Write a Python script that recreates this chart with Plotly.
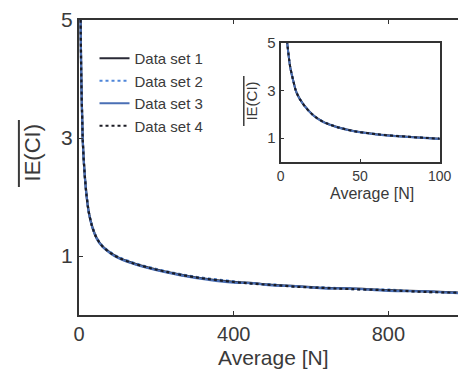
import plotly.graph_objects as go

# ---- data ----
avg_n = [4, 5, 6, 8, 10, 14, 20, 26, 35, 46, 60, 80, 100, 130, 170, 220, 300,
         400, 450, 500, 560, 630, 700, 800, 900, 980]
set1 = [5.10, 4.50, 4.00, 3.40, 2.92, 2.45, 2.00, 1.72, 1.48, 1.30, 1.17, 1.06, 0.98,
        0.90, 0.82, 0.74, 0.64, 0.56, 0.54, 0.51, 0.49, 0.46, 0.45, 0.42, 0.40, 0.38]
set2 = [5.12, 4.52, 4.02, 3.42, 2.93, 2.46, 2.01, 1.73, 1.49, 1.31, 1.18, 1.07, 0.99,
        0.91, 0.83, 0.75, 0.65, 0.57, 0.53, 0.52, 0.48, 0.47, 0.44, 0.43, 0.39, 0.39]
set3 = [5.08, 4.49, 3.99, 3.39, 2.91, 2.44, 1.99, 1.71, 1.47, 1.29, 1.16, 1.05, 0.97,
        0.89, 0.81, 0.73, 0.63, 0.55, 0.54, 0.50, 0.49, 0.45, 0.45, 0.41, 0.40, 0.37]
set4 = [5.11, 4.51, 4.01, 3.41, 2.92, 2.45, 2.00, 1.72, 1.48, 1.30, 1.17, 1.06, 0.98,
        0.90, 0.82, 0.74, 0.64, 0.56, 0.53, 0.51, 0.48, 0.46, 0.44, 0.42, 0.39, 0.38]
series_names = ["Data set 1", "Data set 2", "Data set 3", "Data set 4"]
series_values = [set1, set2, set3, set4]
series_colors = ["#2a2a36", "#4f86d9", "#4a6fb5", "#1c1c24"]
series_dash = ["solid", "dot", "solid", "dot"]

main_x_ticks = [0, 400, 800]
main_y_ticks = [1, 3, 5]
inset_x_ticks = [0, 50, 100]
inset_y_ticks = [1, 3, 5]

W, H = 470, 369
ml, mr, mt, mb = 79, 0, 20, 54
pw, ph = W - ml - mr, H - mt - mb

def px_x(p):
    return (p - ml) / pw

def px_y(p):
    return (H - mb - p) / ph

fig = go.Figure()
for name, vals, col, dash in zip(series_names, series_values, series_colors, series_dash):
    fig.add_trace(go.Scatter(x=avg_n, y=vals, name=name, mode="lines",
                             line=dict(color=col, width=2.2, dash=dash, shape="spline"),
                             xaxis="x", yaxis="y"))
for name, vals, col, dash in zip(series_names, series_values, series_colors, series_dash):
    fig.add_trace(go.Scatter(x=avg_n, y=vals, name=name, mode="lines", showlegend=False,
                             line=dict(color=col, width=2, dash=dash, shape="spline"),
                             xaxis="x2", yaxis="y2"))

axcol = "#333333"
txtcol = "#3a3a3a"
fig.update_layout(
    width=W, height=H,
    margin=dict(l=ml, r=mr, t=mt, b=mb),
    paper_bgcolor="white", plot_bgcolor="white",
    font=dict(family="Liberation Sans, Arial, sans-serif", color=txtcol),
    showlegend=True,
    legend=dict(x=px_x(95), y=px_y(42), xanchor="left", yanchor="top",
                bgcolor="rgba(0,0,0,0)", font=dict(size=15, color=txtcol),
                itemwidth=30, tracegroupgap=0),
    xaxis=dict(domain=[0, 1], range=[0, 980], tickvals=main_x_ticks,
               showline=True, linecolor=axcol, linewidth=2, mirror="ticks",
               ticks="inside", ticklen=4, tickcolor=axcol, showgrid=False,
               zeroline=False, tickfont=dict(size=20, color=txtcol)),
    yaxis=dict(domain=[0, 1], range=[0, 5], tickvals=main_y_ticks,
               showline=True, linecolor=axcol, linewidth=2,
               ticks="inside", ticklen=4, tickcolor=axcol, showgrid=False,
               zeroline=False, tickfont=dict(size=21, color=txtcol)),
    xaxis2=dict(domain=[px_x(287), px_x(451)], range=[0, 100], tickvals=inset_x_ticks,
                anchor="y2", showline=True, linecolor=axcol, linewidth=2, mirror=True,
                ticks="inside", ticklen=3, tickcolor=axcol, showgrid=False,
                zeroline=False, tickfont=dict(size=14, color=txtcol)),
    yaxis2=dict(domain=[px_y(162), px_y(43)], range=[0, 5], tickvals=inset_y_ticks,
                anchor="x2", showline=True, linecolor=axcol, linewidth=2, mirror=True,
                ticks="inside", ticklen=3, tickcolor=axcol, showgrid=False,
                zeroline=False, tickfont=dict(size=15, color=txtcol)),
)

# axis titles
def ann(text, x, y, size, angle=0):
    fig.add_annotation(text=text, xref="paper", yref="paper", x=px_x(x), y=px_y(y),
                       xanchor="center", yanchor="middle", textangle=angle,
                       showarrow=False, font=dict(size=size, color=txtcol))

ann("Average [N]", 280, 357, 21)
ann("IE(CI)", 31, 153, 22, -90)
ann("Average [N]", 381, 193, 16)
ann("IE(CI)", 256, 101, 15, -90)
fig.add_shape(type="line", xref="paper", yref="paper",
              x0=px_x(17), x1=px_x(17), y0=px_y(120), y1=px_y(187),
              line=dict(color=txtcol, width=2))
fig.add_shape(type="line", xref="paper", yref="paper",
              x0=px_x(249), x1=px_x(249), y0=px_y(76), y1=px_y(126),
              line=dict(color=txtcol, width=1.5))

fig.write_html("out.html")
